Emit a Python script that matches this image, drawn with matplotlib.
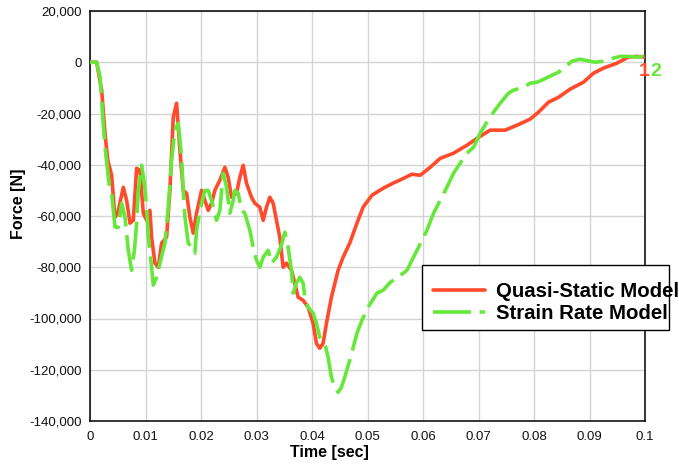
import matplotlib
matplotlib.use("Agg")
import matplotlib.pyplot as plt
from matplotlib.patches import Rectangle
from matplotlib.ticker import FuncFormatter

# Quasi-static model: time [s] and force [N]
t_quasi = [0.0, 0.0012, 0.0021, 0.0027, 0.0032, 0.0039, 0.0045, 0.0050, 0.0060, 0.0066,
           0.0072, 0.0078, 0.0084, 0.0090, 0.0096, 0.0102, 0.0108, 0.0111, 0.0117, 0.0123,
           0.0129, 0.0138, 0.0144, 0.0150, 0.0156, 0.0162, 0.0168, 0.0174, 0.0180, 0.0186,
           0.0192, 0.0201, 0.0207, 0.0213, 0.0219, 0.0225, 0.0234, 0.0243, 0.0249, 0.0255,
           0.0264, 0.0270, 0.0276, 0.0282, 0.0291, 0.0297, 0.0306, 0.0312, 0.0318, 0.0324,
           0.0330, 0.0336, 0.0342, 0.0348, 0.0354, 0.0363, 0.0369, 0.0375, 0.0384, 0.0393,
           0.0402, 0.0408, 0.0414, 0.0420, 0.0426, 0.0435, 0.0447, 0.0456, 0.0468, 0.0481,
           0.0492, 0.0508, 0.0528, 0.0546, 0.0565, 0.0580, 0.0595, 0.0613, 0.0631, 0.0655,
           0.0679, 0.0700, 0.0721, 0.0748, 0.0769, 0.0793, 0.0808, 0.0826, 0.0844, 0.0865,
           0.0889, 0.0907, 0.0925, 0.0949, 0.0970, 0.0985, 0.1000]
f_quasi = [0, 0, -10900, -27700, -38200, -44100, -60500, -58900, -48800, -53900,
           -62800, -61700, -41400, -42100, -58900, -61700, -57800, -68300, -78400, -80000,
           -70600, -68300, -50000, -21500, -16000, -34300, -50000, -51100, -60500, -66700,
           -58900, -50000, -53900, -57800, -55000, -50000, -46000, -41000, -44900, -52700,
           -51100, -44900, -40200, -47200, -52700, -55000, -56600, -61700, -56600, -52700,
           -55000, -61700, -68300, -80000, -78400, -81200, -86200, -91700, -92900, -95600,
           -101900, -109700, -111600, -109700, -101900, -91700, -81200, -76100, -70600, -62800,
           -56600, -51900, -49200, -47200, -45300, -43700, -44100, -41000, -37500, -35500,
           -32400, -29300, -26500, -26500, -24600, -22200, -19500, -15600, -13700, -10500,
           -7800, -4300, -2300, -400, 2000, 2300, 2000]

# Strain rate model: time [s] and force [N]
t_strain = [0.0, 0.0012, 0.0018, 0.0021, 0.0024, 0.0027, 0.0033, 0.0036, 0.0039, 0.0045,
            0.0051, 0.0057, 0.0063, 0.0069, 0.0075, 0.0080, 0.0084, 0.0087, 0.0093, 0.0098,
            0.0102, 0.0105, 0.0111, 0.0114, 0.0120, 0.0126, 0.0135, 0.0141, 0.0147, 0.0153,
            0.0159, 0.0165, 0.0168, 0.0171, 0.0177, 0.0183, 0.0189, 0.0192, 0.0198, 0.0207,
            0.0213, 0.0219, 0.0228, 0.0234, 0.0240, 0.0246, 0.0252, 0.0258, 0.0261, 0.0267,
            0.0273, 0.0279, 0.0288, 0.0294, 0.0300, 0.0306, 0.0312, 0.0321, 0.0327, 0.0336,
            0.0345, 0.0351, 0.0357, 0.0363, 0.0366, 0.0372, 0.0378, 0.0384, 0.0387, 0.0393,
            0.0402, 0.0408, 0.0414, 0.0423, 0.0429, 0.0435, 0.0441, 0.0447, 0.0453, 0.0459,
            0.0468, 0.0481, 0.0490, 0.0501, 0.0517, 0.0528, 0.0541, 0.0555, 0.0571, 0.0580,
            0.0592, 0.0607, 0.0619, 0.0631, 0.0643, 0.0655, 0.0667, 0.0679, 0.0691, 0.0703,
            0.0715, 0.0727, 0.0739, 0.0754, 0.0763, 0.0781, 0.0793, 0.0805, 0.0814, 0.0832,
            0.0844, 0.0856, 0.0868, 0.0883, 0.0892, 0.0910, 0.0925, 0.0943, 0.0955, 0.0970,
            0.0985, 0.0997]
f_strain = [0, 0, -5700, -14800, -24600, -33100, -44800, -50000, -51100, -64300,
            -64400, -55000, -60500, -73400, -81200, -73400, -62800, -50000, -40200, -47200,
            -56600, -68300, -80000, -87000, -83900, -78400, -70600, -56600, -38200, -26500,
            -23800, -37000, -50000, -60400, -70600, -72200, -74500, -65600, -57800, -50000,
            -50000, -53900, -61700, -57800, -43300, -48800, -58900, -53900, -50000, -51100,
            -57800, -58900, -65600, -72200, -77300, -80000, -76100, -73400, -78400, -76100,
            -71400, -66300, -72200, -81200, -90100, -86200, -83900, -86200, -91700, -95600,
            -97900, -101900, -107300, -109700, -115100, -122900, -126800, -128800, -126800, -122900,
            -116300, -105800, -100700, -95600, -90100, -89000, -85900, -83900, -81200, -77300,
            -72200, -65600, -58900, -53900, -48800, -43300, -39400, -35500, -33200, -27700,
            -23400, -19500, -16000, -12100, -10900, -9800, -8200, -7800, -7000, -5100,
            -3900, -2000, 400, 1200, 800, 0, 400, 1600, 2300, 2300,
            2000, 2300]

x_ticks = [0, 0.01, 0.02, 0.03, 0.04, 0.05, 0.06, 0.07, 0.08, 0.09, 0.1]
x_tick_labels = ["0", "0.01", "0.02", "0.03", "0.04", "0.05", "0.06", "0.07", "0.08", "0.09", "0.1"]
y_ticks = [20000, 0, -20000, -40000, -60000, -80000, -100000, -120000, -140000]

series_names = ["Quasi-Static Model", "Strain Rate Model"]
curve_tags = ["1", "2"]

RED = "#FF4B2B"
GREEN = "#66E83A"

plt.rcParams["font.family"] = ["Liberation Sans", "DejaVu Sans"]

W, H = 679, 467
fig = plt.figure(figsize=(W / 100, H / 100), dpi=100)
ax = fig.add_axes([90 / W, 1 - 421 / H, 555 / W, 410 / H])

l1, = ax.plot(t_quasi, f_quasi, color=RED, lw=2.6, solid_capstyle="round",
              solid_joinstyle="round", label=series_names[0], zorder=3)
l2, = ax.plot(t_strain, f_strain, color=GREEN, lw=2.6, linestyle=(0, (10.5, 2.4)),
              dash_capstyle="butt", dash_joinstyle="round", label=series_names[1], zorder=4)

ax.set_xlim(0, 0.1)
ax.set_ylim(-140000, 20000)
ax.set_xticks(x_ticks)
ax.set_xticklabels(x_tick_labels)
ax.set_yticks(y_ticks)
ax.yaxis.set_major_formatter(FuncFormatter(lambda v, p: f"{int(v):,}"))
ax.tick_params(length=0, labelsize=9.5, colors="#111111")
ax.tick_params(axis="y", pad=6)
ax.tick_params(axis="x", pad=7)
ax.grid(True, color="#D4D4D4", lw=1.0)
ax.set_axisbelow(True)
for s in ax.spines.values():
    s.set_color("black")
    s.set_linewidth(1.1)

ax.set_xlabel("Time [sec]", fontsize=11.5, fontweight="bold")
ax.set_ylabel("Force [N]", fontsize=11.5, fontweight="bold")
ax.xaxis.set_label_coords(0.432, -0.058)
ax.yaxis.set_label_coords(-0.115, 0.53)

# curve end tags
ax.annotate(curve_tags[0], xy=(1.0, 0.0), xycoords=("axes fraction", "data"),
            xytext=(-6, -1), textcoords="offset pixels", color=RED, fontsize=14,
            fontweight="bold", ha="left", va="top", annotation_clip=False)
ax.annotate(curve_tags[1], xy=(1.0, 0.0), xycoords=("axes fraction", "data"),
            xytext=(5, -1), textcoords="offset pixels", color=GREEN, fontsize=14,
            fontweight="bold", ha="left", va="top", annotation_clip=False)

# legend box and entries
fig.patches.append(Rectangle((422 / W, 1 - 330 / H), 247 / W, 65 / H,
                             transform=fig.transFigure, facecolor="white",
                             edgecolor="black", lw=1.0, zorder=1))
fig.legend(handles=[l1, l2], loc="upper left",
           bbox_to_anchor=(433 / W, 1 - 282 / H), frameon=False,
           prop={"weight": "bold", "size": 14.7}, handlelength=2.55,
           handletextpad=0.54, labelspacing=0.13, borderaxespad=0, borderpad=0)

fig.savefig("out.png", dpi=100)
